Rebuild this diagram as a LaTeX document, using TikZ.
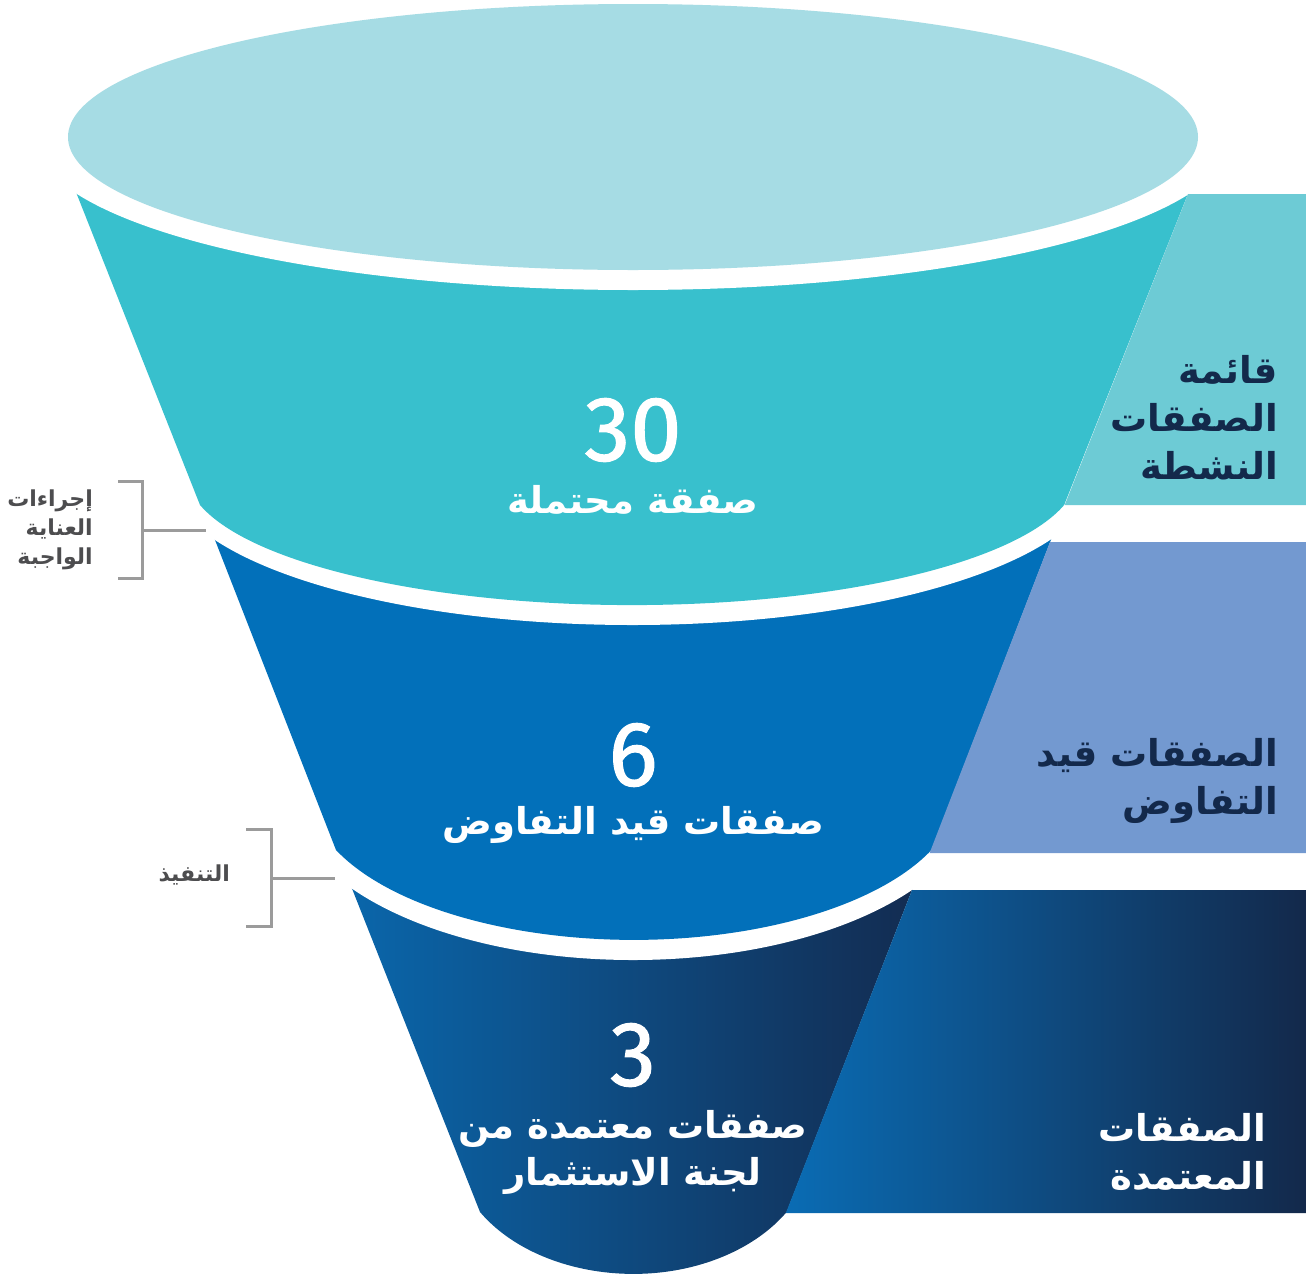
\documentclass[tikz,border=0pt]{standalone}
\usepackage{fontspec}
\TeXXeTstate=1
\newfontfamily\ar[Script=Arabic]{DejaVu Sans}
\newfontfamily\numfont[FakeBold=1.2]{Fira Sans}
\definecolor{topell}{HTML}{A6DCE4}
\definecolor{segA}{HTML}{38C0CD}
\definecolor{segB}{HTML}{0270BA}
\definecolor{segCL}{HTML}{0A67AC}
\definecolor{segCR}{HTML}{132B50}
\definecolor{panA}{HTML}{6DCBD5}
\definecolor{panB}{HTML}{7399D0}
\definecolor{panCL}{HTML}{0A6CB4}
\definecolor{panCR}{HTML}{13294B}
\definecolor{navy}{HTML}{13294B}
\definecolor{brk}{HTML}{9B9B9B}
\definecolor{gtext}{HTML}{4D4D4F}
\begin{document}
\begin{tikzpicture}[x=1pt,y=-1pt,
  bracket/.style={draw=brk,line width=3pt},
  numlbl/.style={font=\numfont\fontsize{92}{92}\selectfont,text=white,inner sep=0pt},
  funlbl/.style={font=\ar\bfseries\fontsize{37}{47}\selectfont,text=white,inner sep=0pt,align=center},
  panlbl/.style={font=\ar\bfseries\fontsize{37}{48}\selectfont,inner sep=0pt,align=right,anchor=east},
  sidelbl/.style={font=\ar\bfseries\fontsize{22}{29}\selectfont,text=gtext,inner sep=0pt,align=right,anchor=east}]
\useasboundingbox (0,0) rectangle (1306,1275);
% segment 3 (bottom)
\shade[left color=segCL,right color=segCR] (340.7,860) -- (480,1212)
  arc[start angle=148.4,end angle=31.6,x radius=180,y radius=130] -- (923.7,860) -- cycle;
\fill[white] (633,790) ellipse [x radius=345,y radius=170];
% segment 2
\fill[segB] (199.4,500) -- (336,850)
  arc[start angle=156.36,end angle=23.64,x radius=325,y radius=150] -- (1066.3,500) -- cycle;
\fill[white] (632.5,472) ellipse [x radius=466,y radius=153];
% segment 1
\fill[segA] (59.3,150) -- (200,505)
  arc[start angle=165.65,end angle=14.35,x radius=446,y radius=133] -- (1205.4,150) -- cycle;
\fill[white] (633,137) ellipse [x radius=599,y radius=153];
% top ellipse
\fill[topell] (633,137) ellipse [x radius=565,y radius=133];
% panels
\fill[panA] (1188,194) -- (1306,194) -- (1306,505) -- (1064.7,505) -- cycle;
\fill[panB] (1050,542) -- (1306,542) -- (1306,853) -- (929.6,853) -- cycle;
\shade[left color=panCL,right color=panCR] (912,890) -- (1306,890) -- (1306,1213) -- (785.9,1213) -- cycle;
% funnel labels
\node[numlbl] (n30) at (633,430) {30};
\node[funlbl] (l30) at (633,500) {\beginR صفقة محتملة\endR};
\node[numlbl] (n6) at (633,755) {6};
\node[funlbl] (l6) at (633,825) {\beginR صفقات قيد التفاوض\endR};
\node[numlbl] (n3) at (633,1055) {3};
\node[funlbl] (l3) at (633,1152) {\beginR صفقات معتمدة من\endR\\\beginR لجنة الاستثمار\endR};
% panel labels
\node[panlbl,text=navy] (p1) at (1278,418) {\beginR قائمة\endR\\\beginR الصفقات\endR\\\beginR النشطة\endR};
\node[panlbl,text=navy] (p2) at (1278,781) {\beginR الصفقات قيد\endR\\\beginR التفاوض\endR};
\node[panlbl,text=white] (p3) at (1266,1152) {\beginR الصفقات\endR\\\beginR المعتمدة\endR};
% side labels and brackets
\node[sidelbl] (s1) at (93,530) {\beginR إجراءات\endR\\\beginR العناية\endR\\\beginR الواجبة\endR};
\node[sidelbl] (s2) at (230,875) {\beginR التنفيذ\endR};
\coordinate (b1a) at (118,481);
\coordinate (b1b) at (118,578);
\coordinate (b1m) at (142,530);
\coordinate (b1e) at (206,530);
\coordinate (b2a) at (246,829);
\coordinate (b2b) at (246,926);
\coordinate (b2m) at (271,878);
\coordinate (b2e) at (335,878);
\draw[bracket] (b1a) -- (b1a -| b1m) -- (b1b -| b1m) -- (b1b);
\draw[bracket] (b1m) -- (b1e);
\draw[bracket] (b2a) -- (b2a -| b2m) -- (b2b -| b2m) -- (b2b);
\draw[bracket] (b2m) -- (b2e);
\end{tikzpicture}
\end{document}
